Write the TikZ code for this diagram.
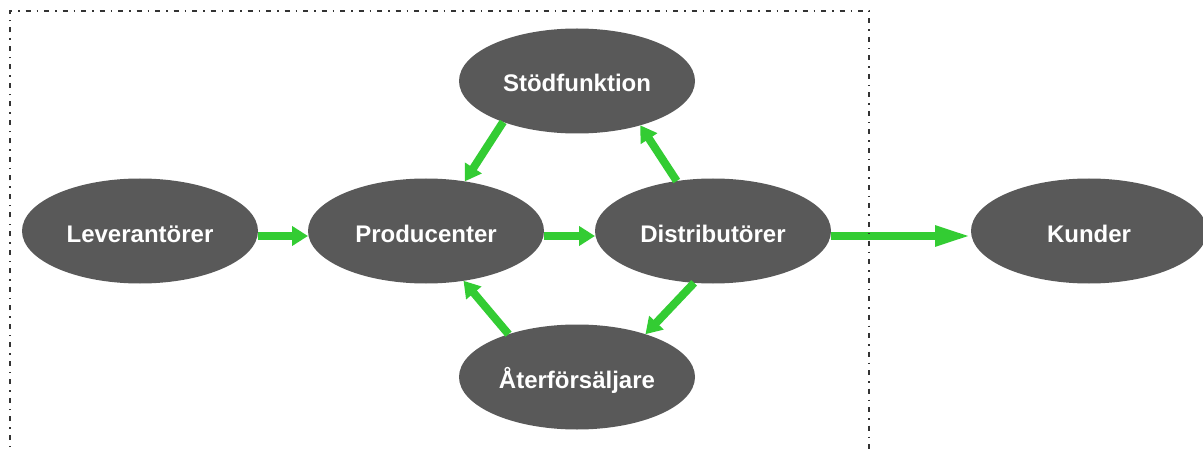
\documentclass[tikz,border=0pt]{standalone}
\usepackage{fontspec}
\setmainfont{Liberation Sans}
\usetikzlibrary{shapes.geometric,arrows.meta}
\definecolor{nodegray}{HTML}{595959}
\definecolor{flowgreen}{HTML}{33CC33}
\begin{document}
\begin{tikzpicture}[x=1pt, y=1pt,
    actor/.style={ellipse, fill=nodegray, minimum width=236pt, minimum height=105pt,
        inner sep=0pt, outer sep=0pt, text height=22pt, text depth=0pt,
        text=white, font=\fontsize{24}{28}\selectfont\bfseries},
    flow/.style={draw=flowgreen, line width=8pt, -{Triangle[length=16pt,width=19pt]}},
    longflow/.style={flow, -{Triangle[length=36pt,width=19pt]}}]
    \useasboundingbox (0,0) rectangle (1203,448) ;
    % the chain
    \node [actor] (lev) at (140,217) {Leverantörer} ;
    \node [actor] (prod) at (426,217) {Producenter} ;
    \node [actor] (dist) at (713,217) {Distributörer} ;
    \node [actor] (kund) at (1089,217) {Kunder} ;
    \node [actor] (stod) at (577,367) {Stödfunktion} ;
    \node [actor] (ater) at (577,71) {Återförsäljare} ;
    % flows
    \draw [flow] ([yshift=-5pt]lev.east) -- ([yshift=-5pt]prod.west) ;
    \draw [flow] ([yshift=-5pt]prod.east) -- ([yshift=-5pt]dist.west) ;
    \draw [longflow] ([yshift=-5pt]dist.east) -- ([yshift=-5pt]kund.west) ;
    \draw [flow] (stod.209) -- (prod.52) ;
    \draw [flow] (dist.126) -- (stod.-35) ;
    \draw [flow] (ater.148) -- (prod.-53) ;
    \draw [flow] (dist.250) -- (ater.32) ;
    % company border, open at the bottom
    \draw [dash pattern=on 5pt off 6pt on 1.5pt off 6pt, line width=1.2pt, black!80]
        (10,-10) -- (10,437) -- (869,437) -- (869,-10) ;
\end{tikzpicture}
\end{document}
